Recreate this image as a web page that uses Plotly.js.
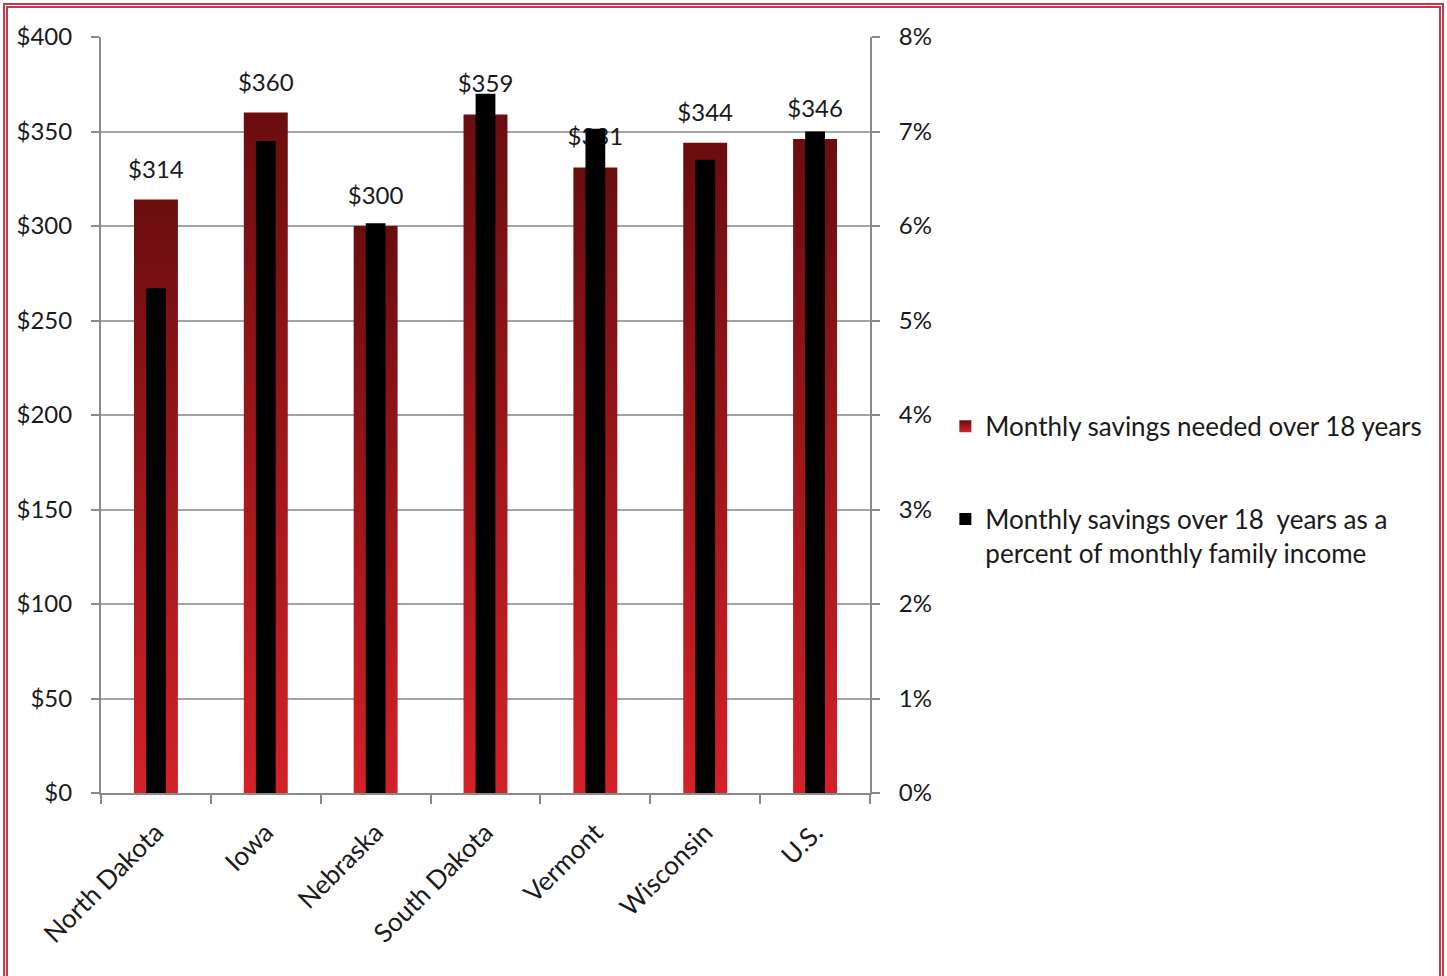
<!DOCTYPE html>
<html><head><meta charset="utf-8">
<script src="https://cdn.plot.ly/plotly-3.0.1.min.js"></script>
<style>
html,body{margin:0;padding:0;background:#fff;overflow:hidden;}
#chart{width:1447px;height:976px;position:absolute;left:0;top:0;}
#frame{position:absolute;left:3px;top:3px;width:1431px;height:1100px;border:5px double #c23a4c;pointer-events:none;}
</style></head><body>
<div id="chart"></div><div id="frame"></div>
<script>
const categories = ['North Dakota','Iowa','Nebraska','South Dakota','Vermont','Wisconsin','U.S.'];
const monthlySavings = [314, 360, 300, 359, 331, 344, 346];
const pctOfIncome = [0.0534, 0.069, 0.0603, 0.074, 0.0703, 0.067, 0.07];
const seriesNames = ['Monthly savings needed over 18 years',
  'Monthly savings over 18  years as a<br>percent of monthly family income'];

const axisGray = '#8a8a8a';
const data = [
  {type:'bar', name:seriesNames[0], x:categories, y:monthlySavings, width:0.4,
   marker:{color:'#a0181c'}, legendgroup:'a', hoverinfo:'skip'},
  {type:'scatter', mode:'markers+text', x:categories, y:monthlySavings,
   text:monthlySavings.map(v=>'$'+v), textposition:'top center',
   marker:{size:24,color:'rgba(0,0,0,0)'}, showlegend:false, hoverinfo:'skip', cliponaxis:false,
   textfont:{size:24,color:'#1a1a1a'}},
  {type:'bar', name:seriesNames[1], x:categories, y:pctOfIncome, yaxis:'y2', width:0.18,
   marker:{color:'#000000'}, legendgroup:'b', hoverinfo:'skip'}
];
const layout = {
  width:1447, height:976,
  margin:{l:101, r:577, t:37, b:183, autoexpand:false},
  paper_bgcolor:'#ffffff', plot_bgcolor:'#ffffff',
  font:{family:'Lato, Carlito, sans-serif', size:24, color:'#1a1a1a'},
  barmode:'overlay', showlegend:true,
  xaxis:{type:'category', range:[-0.5,6.5], tickangle:-45, ticks:'outside', tickson:'boundaries',
    ticklen:9, tickwidth:2, tickcolor:axisGray, showline:true, linecolor:axisGray, linewidth:2,
    showgrid:false, tickfont:{size:26}, ticklabelstandoff:12},
  yaxis:{range:[0,400], dtick:50, tickprefix:'$', ticks:'outside', ticklen:8, tickwidth:2,
    tickcolor:axisGray, showline:true, linecolor:axisGray, linewidth:2, showgrid:true,
    gridcolor:'#a3a3a3', gridwidth:2, zeroline:false, ticklabelstandoff:14},
  yaxis2:{overlaying:'y', side:'right', range:[0,0.08], dtick:0.01, tickformat:'.0%',
    ticks:'outside', ticklen:8, tickwidth:2, tickcolor:axisGray, showline:true, linecolor:axisGray,
    linewidth:2, showgrid:false, zeroline:false, ticklabelstandoff:14},
  legend:{x:1.098, xanchor:'left', y:0.516, yanchor:'top', traceorder:'grouped', tracegroupgap:56,
    valign:'top', font:{size:26,color:'#1a1a1a'}, bgcolor:'rgba(0,0,0,0)'}
};
Plotly.newPlot('chart', data, layout, {staticPlot:true}).then(gd => {
  const ns = 'http://www.w3.org/2000/svg';
  const svg = gd.querySelector('svg.main-svg');
  let defs = svg.querySelector('defs');
  if(!defs){ defs = document.createElementNS(ns,'defs'); svg.insertBefore(defs, svg.firstChild); }
  const lg = document.createElementNS(ns,'linearGradient');
  lg.setAttribute('id','redgrad'); lg.setAttribute('x1','0'); lg.setAttribute('y1','0');
  lg.setAttribute('x2','0'); lg.setAttribute('y2','1');
  [['0','#6a0d0f'],['1','#d42128']].forEach(([o,c])=>{
    const s = document.createElementNS(ns,'stop'); s.setAttribute('offset',o); s.setAttribute('stop-color',c); lg.appendChild(s);
  });
  defs.appendChild(lg);
  gd.querySelectorAll('path').forEach(p=>{
    if(p.style.fill === 'rgb(160, 24, 28)') p.style.fill = 'url(#redgrad)';
  });
});
</script>
</body></html>
